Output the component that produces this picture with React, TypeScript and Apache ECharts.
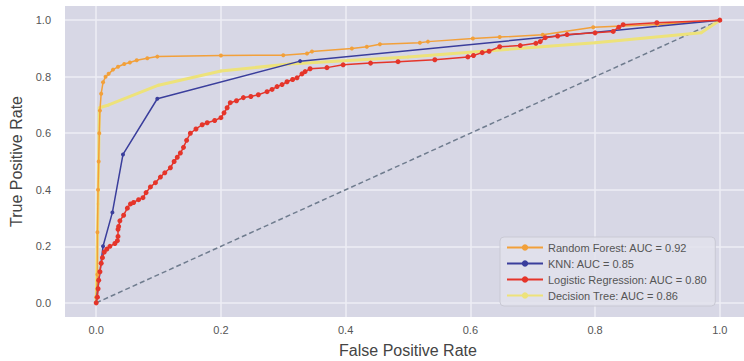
import React, { useEffect, useRef } from "react";
import * as echarts from "echarts";

const tickValues = [0, 0.2, 0.4, 0.6, 0.8, 1.0];

const seriesNames = [
  "Random Forest: AUC = 0.92",
  "KNN: AUC = 0.85",
  "Logistic Regression: AUC = 0.80",
  "Decision Tree: AUC = 0.86",
];

const randomForest: number[][] = [
  [0, 0], [0, 0.02], [0.002, 0.1], [0.002, 0.25], [0.003, 0.4], [0.004, 0.5],
  [0.005, 0.6], [0.006, 0.68], [0.008, 0.74], [0.011, 0.78], [0.015, 0.8],
  [0.02, 0.81], [0.027, 0.825], [0.035, 0.835], [0.045, 0.845], [0.054, 0.85],
  [0.065, 0.858], [0.082, 0.865], [0.098, 0.871], [0.2, 0.875], [0.3, 0.876],
  [0.338, 0.882], [0.346, 0.889], [0.41, 0.9], [0.434, 0.906], [0.455, 0.915],
  [0.519, 0.92], [0.532, 0.924], [0.604, 0.935], [0.647, 0.94], [0.716, 0.948],
  [0.797, 0.975], [0.9, 0.985], [1, 1],
];

const knn: number[][] = [
  [0, 0], [0.011, 0.2], [0.026, 0.32], [0.043, 0.525], [0.098, 0.722],
  [0.327, 0.855], [1, 1],
];

const logisticRegression: number[][] = [
  [0, 0], [0.002, 0.02], [0.003, 0.05], [0.004, 0.08], [0.006, 0.11], [0.008, 0.14],
  [0.01, 0.16], [0.013, 0.18], [0.017, 0.19], [0.022, 0.2], [0.03, 0.21],
  [0.034, 0.22], [0.035, 0.235], [0.035, 0.26], [0.036, 0.27], [0.038, 0.29],
  [0.044, 0.31], [0.05, 0.335], [0.055, 0.35], [0.06, 0.355], [0.068, 0.365],
  [0.075, 0.372], [0.08, 0.39], [0.087, 0.41], [0.095, 0.425], [0.103, 0.445],
  [0.11, 0.46], [0.119, 0.478], [0.125, 0.5], [0.13, 0.515], [0.135, 0.53],
  [0.14, 0.55], [0.145, 0.575], [0.151, 0.6], [0.16, 0.615], [0.17, 0.63],
  [0.178, 0.637], [0.19, 0.645], [0.2, 0.655], [0.205, 0.672], [0.21, 0.69],
  [0.215, 0.708], [0.225, 0.715], [0.236, 0.726], [0.248, 0.73], [0.26, 0.736],
  [0.274, 0.747], [0.282, 0.755], [0.29, 0.765], [0.298, 0.772], [0.306, 0.782],
  [0.315, 0.79], [0.322, 0.796], [0.33, 0.81], [0.335, 0.818], [0.343, 0.828],
  [0.37, 0.832], [0.396, 0.842], [0.44, 0.848], [0.484, 0.853], [0.543, 0.86],
  [0.596, 0.87], [0.605, 0.875], [0.619, 0.885], [0.63, 0.89], [0.647, 0.906],
  [0.68, 0.91], [0.705, 0.918], [0.712, 0.924], [0.72, 0.938], [0.74, 0.944],
  [0.755, 0.949], [0.8, 0.955], [0.829, 0.96], [0.838, 0.975], [0.845, 0.984],
  [0.899, 0.991], [1, 1],
];

const decisionTree: number[][] = [
  [0, 0], [0.003, 0.35], [0.005, 0.69], [0.02, 0.7], [0.1, 0.77], [0.2, 0.82],
  [0.31, 0.845], [0.5, 0.87], [0.62, 0.89], [0.8, 0.92], [0.97, 0.955], [1, 1],
];

const chance: number[][] = [[0, 0], [1, 1]];

const colors = ["#F2A03A", "#3A3E9C", "#E5352A", "#EDE27A"];

export default function App() {
  const ref = useRef<HTMLDivElement>(null);
  useEffect(() => {
    if (!ref.current) return;
    const chart = echarts.init(ref.current, undefined, { renderer: "svg" });
    const font = "'Liberation Sans', Arial, sans-serif";
    const mk = (name: string, data: number[][], color: string, lw: number, sym: number) => ({
      name,
      type: "line",
      data,
      showSymbol: true,
      symbol: "circle",
      symbolSize: sym,
      lineStyle: { color, width: lw },
      itemStyle: { color },
      z: 3,
    });
    chart.setOption({
      animation: false,
      backgroundColor: "#ffffff",
      textStyle: { fontFamily: font },
      grid: {
        left: 65,
        top: 6,
        width: 686,
        height: 311,
        show: true,
        backgroundColor: "#D7D7E5",
        borderWidth: 0,
        outerBoundsMode: "none",
        containLabel: false,
      },
      xAxis: {
        type: "value",
        min: -0.05,
        max: 1.05,
        name: "False Positive Rate",
        nameLocation: "middle",
        nameGap: 25,
        nameTextStyle: { fontSize: 16, color: "#444", fontFamily: font },
        axisLine: { show: false },
        axisTick: { show: false, customValues: tickValues },
        axisLabel: {
          customValues: tickValues,
          formatter: (v: number) => v.toFixed(1),
          color: "#555",
          fontSize: 11,
          margin: 7,
          fontFamily: font,
        },
        splitLine: { show: true, lineStyle: { color: "#EEEEF4", width: 1.5 } },
      },
      yAxis: {
        type: "value",
        min: -0.05,
        max: 1.05,
        name: "True Positive Rate",
        nameLocation: "middle",
        nameGap: 40,
        nameTextStyle: { fontSize: 16, color: "#444", fontFamily: font },
        axisLine: { show: false },
        axisTick: { show: false, customValues: tickValues },
        axisLabel: {
          customValues: tickValues,
          formatter: (v: number) => v.toFixed(1),
          color: "#555",
          fontSize: 11,
          margin: 14,
          fontFamily: font,
        },
        splitLine: { show: true, lineStyle: { color: "#EEEEF4", width: 1.5 } },
      },
      legend: {
        data: seriesNames,
        orient: "vertical",
        left: 500,
        top: 237,
        itemWidth: 36,
        itemHeight: 8,
        itemGap: 5,
        padding: [5, 8, 5, 6],
        backgroundColor: "rgba(226,226,236,0.85)",
        borderColor: "#C9C9D4",
        borderWidth: 1,
        borderRadius: 4,
        textStyle: { color: "#555", fontSize: 11, fontFamily: font },
      },
      series: [
        {
          name: "chance",
          type: "line",
          data: chance,
          showSymbol: false,
          lineStyle: { color: "#6F7C8E", width: 1.5, type: [5, 3] },
          z: 2,
          silent: true,
        },
        mk(seriesNames[0], randomForest, colors[0], 1.5, 4),
        mk(seriesNames[1], knn, colors[1], 1.5, 4),
        mk(seriesNames[2], logisticRegression, colors[2], 1.5, 5),
        { ...mk(seriesNames[3], decisionTree, colors[3], 3, 3), z: 2 },
      ],
    });
    return () => chart.dispose();
  }, []);
  return (
    <div
      ref={ref}
      style={{ position: "fixed", left: 0, top: 0, width: 744, height: 361, background: "#fff" }}
    />
  );
}
